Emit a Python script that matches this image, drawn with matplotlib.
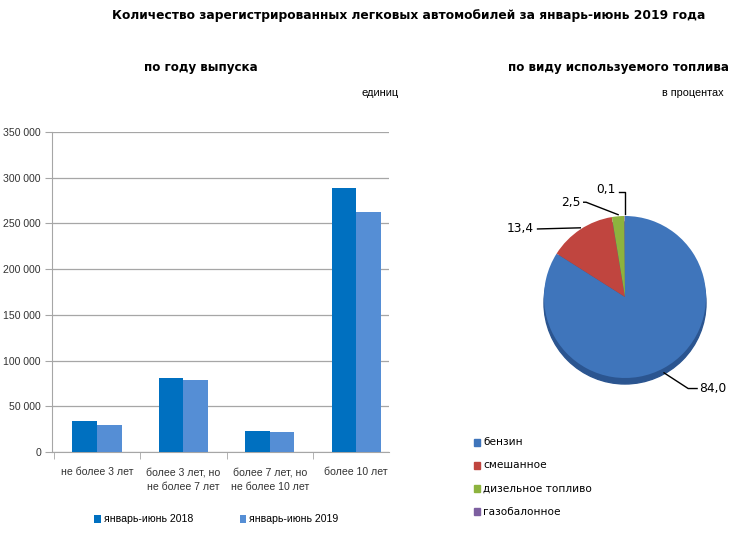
import numpy as np
import matplotlib
matplotlib.use("Agg")
import matplotlib.pyplot as plt
from matplotlib.patches import Circle

W, H = 734, 536

# data
categories = ["не более 3 лет", "более 3 лет, но\nне более 7 лет",
              "более 7 лет, но\nне более 10 лет", "более 10 лет"]
cars_2018 = [34200, 80600, 23300, 288500]
cars_2019 = [29900, 78800, 22200, 262900]
series_names = ["январь-июнь 2018", "январь-июнь 2019"]
yticks = [0, 50000, 100000, 150000, 200000, 250000, 300000, 350000]

fuel_names = ["бензин", "смешанное", "дизельное топливо", "газобалонное"]
fuel_share = [84.0, 13.4, 2.5, 0.1]
fuel_colors = ["#3F75BB", "#C0453F", "#8DB33E", "#7D5FA0"]

plt.rcParams['font.family'] = ['DejaVu Sans']
fig = plt.figure(figsize=(W / 100, H / 100), dpi=100)


def box(l, t, r, b):
    return [l / W, 1 - b / H, (r - l) / W, (b - t) / H]


# titles
fig.text(409 / W, 1 - 15 / H, "Количество зарегистрированных легковых автомобилей за январь-июнь 2019 года",
         ha='center', va='center', fontsize=8.8, fontweight='bold')
fig.text(201 / W, 1 - 68 / H, "по году выпуска", ha='center', va='center',
         fontsize=8.6, fontweight='bold')
fig.text(618 / W, 1 - 68 / H, "по виду используемого топлива", ha='center', va='center',
         fontsize=8.6, fontweight='bold')
fig.text(380 / W, 1 - 93 / H, "единиц", ha='center', va='center', fontsize=8,
         family='Liberation Sans')
fig.text(693 / W, 1 - 93 / H, "в процентах", ha='center', va='center', fontsize=7.8,
         family='Liberation Sans')

# bar chart
ax = fig.add_axes(box(52, 132, 389, 452))
x = np.arange(len(categories))
bw = 0.285
b1 = ax.bar(x - bw / 2, cars_2018, bw, color="#0070C0", label=series_names[0], zorder=3)
b2 = ax.bar(x + bw / 2, cars_2019, bw, color="#558ED5", label=series_names[1], zorder=3)
ax.set_xlim(-0.52, 3.38)
ax.set_ylim(0, 350000)
ax.set_yticks(yticks)
ax.set_yticklabels([f"{v:,}".replace(",", " ") for v in yticks])
ax.yaxis.grid(True, color="#A6A6A6", linewidth=0.9, zorder=0)
ax.set_xticks(x)
ax.set_xticklabels(categories, linespacing=1.6)
ax.set_xticks(np.arange(-0.5, 3.0, 1.0), minor=True)
ax.tick_params(axis='x', which='major', length=0, pad=11)
ax.tick_params(axis='x', which='minor', length=5, color="#A6A6A6", direction='out')
ax.tick_params(axis='y', length=5, color="#A6A6A6", direction='out', pad=3)
for lab in ax.get_xticklabels() + ax.get_yticklabels():
    lab.set_fontsize(7.6)
    lab.set_family('Liberation Sans')
    lab.set_color("#333333")
for s in ['top', 'right']:
    ax.spines[s].set_visible(False)
for s in ['left', 'bottom']:
    ax.spines[s].set_color("#A6A6A6")
ax.legend(handles=[b1, b2], loc='upper left', bbox_to_anchor=(0.097, -0.165), ncol=2,
          frameon=False, handlelength=0.6, handleheight=0.8, handletextpad=0.3,
          columnspacing=4.45, prop={'family': ['Liberation Sans Narrow', 'Liberation Sans'], 'size': 7.6})

# pie chart: R px per unit, centre at (625, 297)
cx, cy, R = 625, 297, 81
pl, pt, pr, pb = 470, 160, 734, 425
pax = fig.add_axes(box(pl, pt, pr, pb))
pax.axis('off')

# 3D-ish rim underneath
pax.add_patch(Circle((0, -6 / R), 1.0, color="#2B5590", zorder=1))
wedges, _ = pax.pie(fuel_share, colors=fuel_colors, startangle=90, counterclock=False,
                    radius=1.0, wedgeprops={'linewidth': 0}, normalize=True)
for w in wedges:
    w.set_zorder(2)
pax.set_xlim((pl - cx) / R, (pr - cx) / R)
pax.set_ylim((cy - pb) / R, (cy - pt) / R)
pax.set_aspect('auto')

# leader lines and labels: (label pos, elbow pos, alignment) in radius units
label_layout = [((0.92, -1.13), (0.78, -1.13), 'left'),
                ((-1.12, 0.84), (-1.08, 0.84), 'right'),
                ((-0.55, 1.17), (-0.48, 1.17), 'right'),
                ((-0.12, 1.33), (0.0, 1.30), 'right')]
for w, val, (lpos, elbow, ha) in zip(wedges, fuel_share, label_layout):
    mid = np.deg2rad((w.theta1 + w.theta2) / 2)
    ax_pt = (np.cos(mid), np.sin(mid))
    if ha == 'left':
        xs = [ax_pt[0], elbow[0], lpos[0] - 0.03]
        ys = [ax_pt[1] - 0.06, elbow[1], elbow[1]]
    elif val < 1:
        xs = [ax_pt[0], ax_pt[0], lpos[0] + 0.04]
        ys = [ax_pt[1] + 0.02, elbow[1], elbow[1]]
    else:
        xs = [ax_pt[0], elbow[0], lpos[0] + 0.04]
        ys = [ax_pt[1] + 0.02, elbow[1], elbow[1]]
    pax.plot(xs, ys, color='black', linewidth=1.0, zorder=3, clip_on=False)
    pax.text(lpos[0], lpos[1], f"{val:.1f}".replace(".", ","), ha=ha, va='center',
             fontsize=8.8, zorder=4)

# pie legend
for i, (name, col) in enumerate(zip(fuel_names, fuel_colors)):
    yy = 442 + i * 23.3
    fig.patches.append(plt.Rectangle((474 / W, 1 - (yy + 3.5) / H), 6 / W, 7 / H,
                                     color=col, transform=fig.transFigure, figure=fig))
    fig.text(483 / W, 1 - yy / H, name, ha='left', va='center', fontsize=7.6)

fig.savefig("out.png", dpi=100)
